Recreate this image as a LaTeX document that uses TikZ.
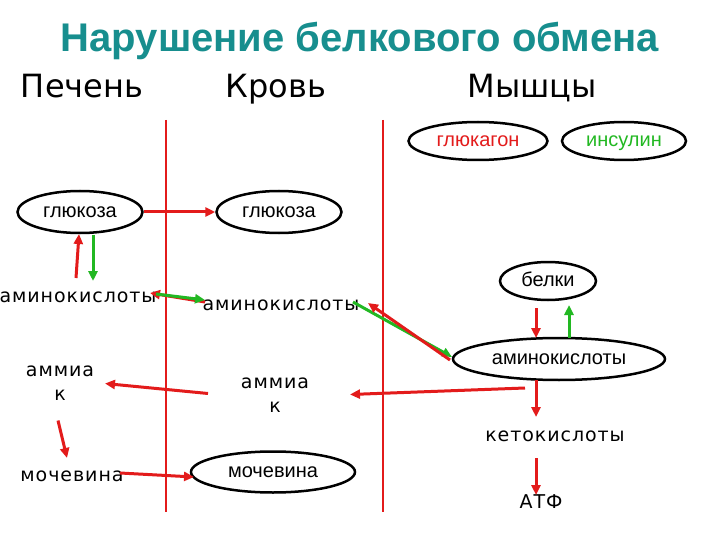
\documentclass[tikz,border=0pt]{standalone}
\usepackage{fontspec}
\setmainfont{Liberation Sans}
\newfontfamily\dvs[LetterSpace=5]{DejaVu Sans}
\newfontfamily\hdr{DejaVu Sans}
\usetikzlibrary{shapes.geometric,arrows.meta,calc}
\definecolor{ttl}{HTML}{178E8E}
\definecolor{rd}{HTML}{E31B1B}
\definecolor{gr}{HTML}{22B822}
\begin{document}
\begin{tikzpicture}[x=1pt,y=-1pt,
  ell/.style={draw=black,line width=2.5pt,ellipse,inner sep=0pt,text height=10.4pt,text depth=0pt,font=\fontsize{20}{22}\selectfont},
  lbl/.style={inner sep=0pt,text height=10.4pt,text depth=0pt,font=\dvs\fontsize{19}{24}\selectfont,align=center},
  hd/.style={inner sep=0pt,anchor=base,font=\hdr\fontsize{32}{34}\selectfont},
  rarr/.style={draw=rd,line width=3pt,-{Triangle[length=10pt,width=9pt]}},
  garr/.style={draw=gr,line width=3pt,-{Triangle[length=10pt,width=9pt]}},
  vline/.style={draw=rd,line width=1.6pt}]
\useasboundingbox (0,0) rectangle (720,540);
\fill[white] (0,0) rectangle (720,540);
% title and headers
\node[inner sep=0pt,anchor=base,text=ttl,font=\bfseries\fontsize{40}{44}\selectfont] (title) at (360,52) {Нарушение белкового обмена};
\node[hd] (h1) at (82,98) {Печень};
\node[hd] (h2) at (276,98) {Кровь};
\node[hd] (h3) at (532,98) {Мышцы};
% vertical lines
\coordinate (v1a) at (166,120); \coordinate (v1b) at (166,512);
\coordinate (v2a) at (383,120); \coordinate (v2b) at (383,512);
\draw[vline] (v1a) -- (v1b);
\draw[vline] (v2a) -- (v2b);
% ellipses
\node[ell,minimum width=125pt,minimum height=42pt] (gl1) at (80,212) {глюкоза};
\node[ell,minimum width=125pt,minimum height=42pt] (gl2) at (279,212) {глюкоза};
\node[ell,minimum width=139pt,minimum height=38pt,text=rd] (gluc) at (478,141) {глюкагон};
\node[ell,minimum width=124pt,minimum height=38pt,text=gr] (insu) at (624,141) {инсулин};
\node[ell,minimum width=96pt,minimum height=38pt] (belki) at (548,281) {белки};
\node[ell,minimum width=212pt,minimum height=42pt] (am3) at (559,359) {аминокислоты};
\node[ell,minimum width=164pt,minimum height=41pt] (moch2) at (273,472) {мочевина};
% labels
\node[lbl] (am1) at (78,297) {аминокислоты};
\node[lbl] (am2) at (281,305) {аминокислоты};
\node[lbl] (amm1) at (60,395.5) {аммиа\\к};
\node[lbl] (amm2) at (275,407.5) {аммиа\\к};
\node[lbl] (moch1) at (72,476) {мочевина};
\node[lbl] (keto) at (555,436) {кетокислоты};
\node[lbl] (atf) at (541,503) {АТФ};
% connectors
\draw[rarr] (gl1.east) -- (gl2.west);
\draw[rarr] ($(am1)+(-2,-19)$) -- ($(gl1)+(-1,22)$);
\draw[garr] ($(gl1)+(13,23)$) -- ($(am1)+(15,-16)$);
\draw[rarr] ($(am2)+(-76,-3)$) -- ($(am1)+(72,-4)$);
\draw[garr] ($(am1)+(78,-3)$) -- ($(am2)+(-76,-5)$);
\draw[garr] ($(am2)+(72,-3)$) -- ($(am3)+(-107,-2)$);
\draw[rarr] ($(am3)+(-109,1)$) -- ($(am2)+(87,-2)$);
\draw[rarr] ($(belki)+(-12,27)$) -- ($(am3)+(-23,-21)$);
\draw[garr] ($(am3)+(10,-21)$) -- ($(belki)+(21,24)$);
\draw[rarr] ($(am3)+(-34,29)$) -- ($(amm2)+(75,-13)$);
\draw[rarr] ($(amm2)+(-67,-14)$) -- ($(amm1)+(45,-12)$);
\draw[rarr] ($(amm1)+(-2,25)$) -- ($(moch1)+(-5,-18)$);
\draw[rarr] ($(moch1)+(48,-3)$) -- ($(moch2)+(-79,5)$);
\draw[rarr] ($(am3)+(-23,21)$) -- ($(keto)+(-19,-19)$);
\draw[rarr] ($(keto)+(-19,22)$) -- ($(atf)+(-5,-8)$);
\end{tikzpicture}
\end{document}
